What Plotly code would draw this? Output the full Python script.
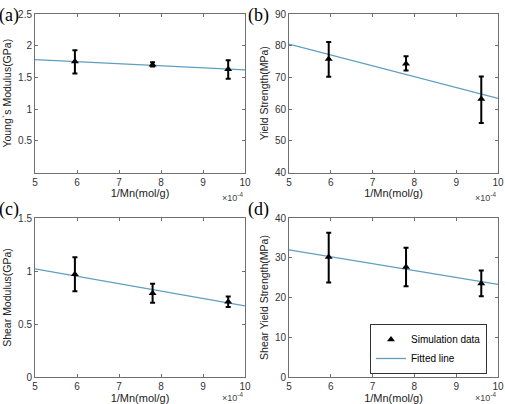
import plotly.graph_objects as go

x_vals = [5.95, 7.8, 9.6]  # x 1e-4 mol/g
fit_x = [5, 10]

young = [1.75, 1.70, 1.63]
young_lo = [1.56, 1.67, 1.48]
young_hi = [1.93, 1.74, 1.77]
young_fit = [1.78, 1.62]

yield_s = [75.8, 74.3, 63.2]
yield_lo = [70.2, 72.2, 55.6]
yield_hi = [81.2, 76.7, 70.3]
yield_fit = [80.5, 63.4]

shear_m = [0.97, 0.79, 0.71]
shear_m_lo = [0.81, 0.70, 0.66]
shear_m_hi = [1.13, 0.88, 0.76]
shear_m_fit = [1.02, 0.67]

shear_y = [30.2, 27.7, 23.5]
shear_y_lo = [23.8, 22.8, 20.3]
shear_y_hi = [36.3, 32.5, 26.8]
shear_y_fit = [32.0, 23.3]

panels = [
    dict(lab="(a)", y=young, lo=young_lo, hi=young_hi, fit=young_fit, rng=[0, 2.5],
         ticks=[0.5, 1, 1.5, 2, 2.5], title="Young`s Modulus(GPa)"),
    dict(lab="(b)", y=yield_s, lo=yield_lo, hi=yield_hi, fit=yield_fit, rng=[40, 90],
         ticks=[40, 50, 60, 70, 80, 90], title="Yield Strength(MPa)"),
    dict(lab="(c)", y=shear_m, lo=shear_m_lo, hi=shear_m_hi, fit=shear_m_fit, rng=[0, 1.5],
         ticks=[0, 0.5, 1, 1.5], title="Shear Modulus(GPa)"),
    dict(lab="(d)", y=shear_y, lo=shear_y_lo, hi=shear_y_hi, fit=shear_y_fit, rng=[0, 40],
         ticks=[0, 10, 20, 30, 40], title="Shear Yield Strength(MPa)"),
]

W, H = 505, 404
xdoms = [[35 / W, 245 / W], [289 / W, 498 / W]]
ydoms = [[1 - 172.5 / H, 1 - 14 / H], [1 - 377 / H, 1 - 218 / H]]
label_pos = [(21, 15), (271, 15), (21, 209), (271, 209)]

fig = go.Figure()
line_col = "#5e9fbf"
axcol = "#6f6f6f"
font_tick = dict(family="Liberation Sans, Arial", size=10, color="#333333")

for i, p in enumerate(panels):
    r, c = divmod(i, 2)
    xa = "x" if i == 0 else f"x{i+1}"
    ya = "y" if i == 0 else f"y{i+1}"
    fig.add_trace(go.Scatter(
        x=fit_x, y=p["fit"], mode="lines", line=dict(color=line_col, width=1.3),
        xaxis=xa, yaxis=ya, name="Fitted line", showlegend=(i == 3), legendrank=2))
    fig.add_trace(go.Scatter(
        x=x_vals, y=p["y"], mode="markers",
        marker=dict(symbol="triangle-up", size=7, color="black"),
        error_y=dict(type="data", symmetric=False,
                     array=[h - v for h, v in zip(p["hi"], p["y"])],
                     arrayminus=[v - l for l, v in zip(p["lo"], p["y"])],
                     color="black", thickness=2, width=2.5),
        xaxis=xa, yaxis=ya, name="Simulation data", showlegend=(i == 3), legendrank=1))
    axx = dict(domain=xdoms[c], range=[5, 10], tickvals=[5, 6, 7, 8, 9, 10],
               showline=True, linecolor=axcol, linewidth=1, mirror="ticks",
               ticks="inside", ticklen=3, tickcolor=axcol, showgrid=False, zeroline=False,
               tickfont=font_tick, anchor=ya, automargin=False,
               title=dict(text="1/Mn(mol/g)", font=dict(family="Liberation Sans, Arial", size=11, color="#222"), standoff=2))
    axy = dict(domain=ydoms[r], range=p["rng"], tickvals=p["ticks"],
               showline=True, linecolor=axcol, linewidth=1, mirror="ticks",
               ticks="inside", ticklen=3, tickcolor=axcol, showgrid=False, zeroline=False,
               tickfont=font_tick, anchor=xa, automargin=False,
               title=dict(text=p["title"], font=dict(family="Liberation Sans, Arial", size=10.5, color="#222"), standoff=4))
    fig.update_layout(**{("xaxis" if i == 0 else f"xaxis{i+1}"): axx,
                         ("yaxis" if i == 0 else f"yaxis{i+1}"): axy})
    lx, ly = label_pos[i]
    fig.add_annotation(x=lx / W, y=1 - ly / H, xref="paper", yref="paper", text=p["lab"],
                       showarrow=False, font=dict(family="Liberation Serif, Times New Roman", size=18, color="black"),
                       xanchor="right", yanchor="middle")
    fig.add_annotation(x=xdoms[c][1], y=1 - ((197 if r == 0 else 397) / H), xref="paper", yref="paper",
                       text="×10<sup>-4</sup>", showarrow=False,
                       font=dict(family="Liberation Sans, Arial", size=9, color="#444"),
                       xanchor="right", yanchor="middle")

fig.update_layout(
    width=W, height=H, margin=dict(l=0, r=0, t=0, b=0, pad=0),
    paper_bgcolor="white", plot_bgcolor="white",
    legend=dict(x=487 / W, y=1 - 349 / H, xanchor="right", yanchor="middle",
                bgcolor="white", bordercolor="#333", borderwidth=1,
                font=dict(family="Liberation Sans, Arial", size=10, color="black"),
                tracegroupgap=0, itemwidth=30),
)

fig.write_html("out.html")
